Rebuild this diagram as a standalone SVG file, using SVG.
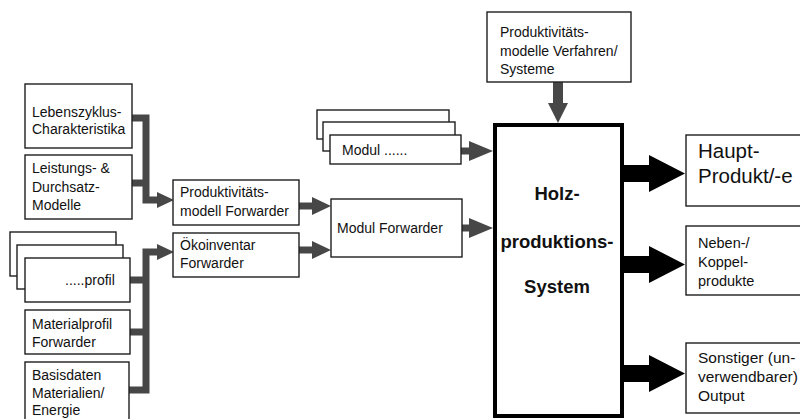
<svg xmlns="http://www.w3.org/2000/svg" width="800" height="419" viewBox="0 0 800 419">
  <style>
    .box { fill: #ffffff; stroke: #1e1e1e; stroke-width: 1.4; }
    .main { fill: #ffffff; stroke: #000000; stroke-width: 4; }
    .t { font-family: "Liberation Sans", Arial, Helvetica, sans-serif; font-size: 14px; fill: #111111; }
    .big { font-size: 20.5px; }
    .mid { font-size: 15.5px; }
    .bold { font-family: "Liberation Sans", Arial, Helvetica, sans-serif; font-size: 18.5px; font-weight: bold; fill: #111111; text-anchor: middle; }
    .feed { fill: none; stroke: #474747; stroke-width: 7; stroke-linejoin: miter; }
    .head { fill: #474747; }
    .out { fill: #000000; }
  </style>
  <rect width="800" height="419" fill="#ffffff"/>

  <!-- connectors -->
  <g id="connectors">
    <!-- inputs to the productivity model -->
    <polyline class="feed" points="132,118 146,118 146,200 160,200"/>
    <line class="feed" x1="132" y1="183" x2="146" y2="183"/>
    <polygon class="head" points="157,192 174,200 157,208"/>
    <!-- inputs to the eco inventory -->
    <polyline class="feed" points="129,390 146,390 146,252 160,252"/>
    <line class="feed" x1="130" y1="280" x2="146" y2="280"/>
    <line class="feed" x1="130" y1="332" x2="146" y2="332"/>
    <polygon class="head" points="157,244 174,252 157,260"/>
    <!-- forwarder models to module -->
    <line class="feed" x1="299" y1="206" x2="315" y2="206"/>
    <polygon class="head" points="312,197 331,206 312,215"/>
    <line class="feed" x1="299" y1="250" x2="315" y2="250"/>
    <polygon class="head" points="312,241 331,250 312,259"/>
    <!-- modules to production system -->
    <line class="feed" x1="461" y1="151" x2="472" y2="151"/>
    <polygon class="head" points="469,141 493,151 469,161"/>
    <line class="feed" x1="462" y1="228" x2="472" y2="228"/>
    <polygon class="head" points="469,218 493,228 469,238"/>
    <!-- productivity models down into the system -->
    <polygon class="head" points="553,82 563,82 563,103 568,103 558,123 548,103 553,103"/>
    <!-- outputs -->
    <polygon class="out" points="624,165 649,165 649,155 685,173.5 649,192 649,182 624,182"/>
    <polygon class="out" points="624,256 649,256 649,246 685,264.5 649,283 649,273 624,273"/>
    <polygon class="out" points="624,365 649,365 649,355 685,373.5 649,392 649,382 624,382"/>
  </g>

  <!-- left column -->
  <g id="lebenszyklus">
    <rect class="box" x="25" y="84" width="107" height="64"/>
    <text class="t" x="32" y="117">Lebenszyklus-</text>
    <text class="t" x="32" y="134">Charakteristika</text>
  </g>
  <g id="leistung">
    <rect class="box" x="25" y="155" width="107" height="64"/>
    <text class="t" x="32" y="173">Leistungs- &amp;</text>
    <text class="t" x="32" y="191.5">Durchsatz-</text>
    <text class="t" x="32" y="210">Modelle</text>
  </g>
  <g id="profil">
    <rect class="box" x="10" y="232" width="106" height="44"/>
    <rect class="box" x="17" y="245" width="106" height="44"/>
    <rect class="box" x="25" y="258" width="105" height="44"/>
    <text class="t" x="65" y="285">.....profil</text>
  </g>
  <g id="materialprofil">
    <rect class="box" x="25" y="310" width="105" height="44"/>
    <text class="t" x="32" y="329">Materialprofil</text>
    <text class="t" x="32" y="347">Forwarder</text>
  </g>
  <g id="basisdaten">
    <rect class="box" x="25" y="362" width="104" height="64"/>
    <text class="t" x="32" y="380">Basisdaten</text>
    <text class="t" x="32" y="397.5">Materialien/</text>
    <text class="t" x="32" y="415">Energie</text>
  </g>

  <!-- forwarder models -->
  <g id="produktivitaet-forwarder">
    <rect class="box" x="173" y="180" width="126" height="45"/>
    <text class="t" x="180" y="197">Produktivitäts-</text>
    <text class="t" x="180" y="215.5">modell Forwarder</text>
  </g>
  <g id="oekoinventar">
    <rect class="box" x="173" y="233" width="126" height="44"/>
    <text class="t" x="180" y="250">Ökoinventar</text>
    <text class="t" x="180" y="267.5">Forwarder</text>
  </g>

  <!-- modules -->
  <g id="modul-stack">
    <rect class="box" x="317" y="110" width="132" height="29"/>
    <rect class="box" x="323" y="122" width="132" height="29"/>
    <rect class="box" x="330" y="135" width="131" height="29"/>
    <text class="t" x="342" y="155">Modul ......</text>
  </g>
  <g id="modul-forwarder">
    <rect class="box" x="331" y="199" width="131" height="58"/>
    <text class="t" x="337" y="233">Modul Forwarder</text>
  </g>

  <!-- productivity models of procedures -->
  <g id="produktivitaet-verfahren">
    <rect class="box" x="487" y="12" width="144" height="70"/>
    <text class="t" x="500" y="37">Produktivitäts-</text>
    <text class="t" x="500" y="55.5">modelle Verfahren/</text>
    <text class="t" x="500" y="74">Systeme</text>
  </g>

  <!-- production system -->
  <g id="holzproduktion">
    <rect class="main" x="495" y="125" width="127" height="291"/>
    <text class="bold" x="557" y="200">Holz-</text>
    <text class="bold" x="557" y="248">produktions-</text>
    <text class="bold" x="557" y="293">System</text>
  </g>

  <!-- outputs -->
  <g id="hauptprodukt">
    <rect class="box" x="686" y="135" width="130" height="71"/>
    <text class="t big" x="698" y="158">Haupt-</text>
    <text class="t big" x="698" y="183">Produkt/-e</text>
  </g>
  <g id="nebenprodukte">
    <rect class="box" x="686" y="226" width="130" height="69"/>
    <text class="t" x="698" y="248" style="font-size:14.5px">Neben-/</text>
    <text class="t" x="698" y="267" style="font-size:14.5px">Koppel-</text>
    <text class="t" x="698" y="286" style="font-size:14.5px">produkte</text>
  </g>
  <g id="sonstiger-output">
    <rect class="box" x="686" y="343" width="130" height="70"/>
    <text class="t mid" x="698" y="363">Sonstiger (un-</text>
    <text class="t mid" x="698" y="382">verwendbarer)</text>
    <text class="t mid" x="698" y="400.5">Output</text>
  </g>
</svg>
